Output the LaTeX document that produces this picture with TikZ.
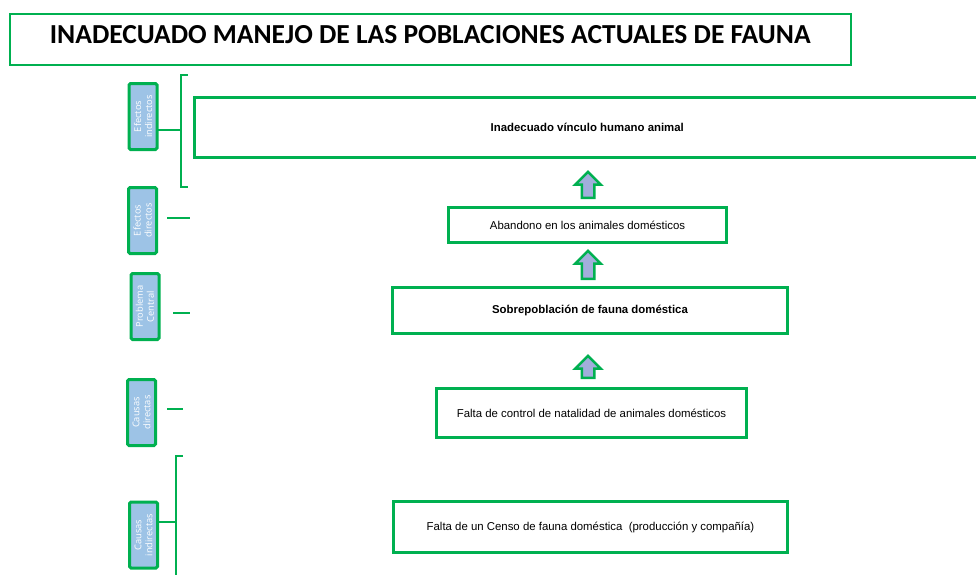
\documentclass[tikz,border=0pt]{standalone}
\usepackage{fontspec}
\setmainfont{Liberation Sans}
\newfontfamily\titlefont{Carlito}
\newfontfamily\tagfont{Open Sans}
\usetikzlibrary{shapes.arrows}
\definecolor{verde}{HTML}{00B050}
\definecolor{celeste}{HTML}{9DC3E6}
\definecolor{lila}{HTML}{A2AEDC}

\begin{document}
\begin{tikzpicture}
[x=1pt,y=-1pt,
  tag/.style={draw=verde,line width=3pt,fill=celeste,rounded corners=1.5pt,
    minimum width=66pt,minimum height=28pt,rotate=90,align=center,
    text=white,font=\tagfont\fontsize{9.3}{11}\selectfont,inner sep=0pt},
  box/.style={draw=verde,line width=2.5pt,fill=white,align=center,
    font=\fontsize{11.4}{13}\selectfont},
  uparrow/.style={single arrow,draw=verde,line width=2.5pt,fill=lila,
    shape border rotate=90,single arrow head extend=6.5pt,
    inner sep=5pt},
  tick/.style={draw=verde,line width=2.5pt}]
\useasboundingbox (0,0) rectangle (976,574);
%% brackets and ticks (drawn first, the tags sit on top)
\coordinate (b1) at (181,130);
\coordinate (b2) at (176,522);
\draw[tick] (188,75) -- (181,75) -- (181,187) -- (188,187);
\draw[tick] (183,456) -- (176,456) -- (176,580);
%% title
\node[box,minimum width=841pt,minimum height=51pt,font=\titlefont\bfseries\fontsize{27.5}{30}\selectfont,
  anchor=north west,text depth=9pt] (titulo) at (8.5,12.5) {INADECUADO MANEJO DE LAS POBLACIONES ACTUALES DE FAUNA};
%% side tags
\draw[tick] (143,130) -- (b1);
\draw[tick] (143,522) -- (b2);
\node[tag] (efind) at (143,116.5) {Efectos\\indirectos};
\node[tag] (efdir) at (142.5,220.5) {Efectos\\directos};
\node[tag] (probl) at (145,306.5) {Problema\\Central};
\node[tag] (caudir) at (141.5,412.5) {Causas\\directas};
\node[tag] (cauind) at (143.5,535) {Causas\\indirectas};
%% main boxes
\node[box,minimum width=800pt,minimum height=60pt,anchor=west,font=\bfseries\fontsize{11.4}{13}\selectfont]
  (vinculo) at (193,127.5) {\hspace*{-14pt}Inadecuado vínculo humano animal};
\node[box,minimum width=278pt,minimum height=35pt] (abandono) at (587.5,225) {Abandono en los animales domésticos};
\node[box,minimum width=395pt,minimum height=46pt,font=\bfseries\fontsize{11.4}{13}\selectfont]
  (sobrepob) at (590,310.5) {Sobrepoblación de fauna doméstica};
\node[box,minimum width=310pt,minimum height=49pt] (natalidad) at (591.5,413) {Falta de control de natalidad de animales domésticos};
\node[box,minimum width=394pt,minimum height=51pt] (censo) at (590.5,527) {Falta de un Censo de fauna doméstica~ (producción y compañía)};
%% arrows
\node[uparrow,minimum height=26pt] (f1) at (588,188) {};
\node[uparrow,minimum height=28pt] (f2) at (588,268) {};
\node[uparrow,minimum height=22pt] (f3) at (588,370) {};
%% ticks of the middle tags
\draw[tick] (167,218) -- (190,218);
\draw[tick] (173,313) -- (190,313);
\draw[tick] (167,409) -- (183,409);
\end{tikzpicture}
\end{document}
